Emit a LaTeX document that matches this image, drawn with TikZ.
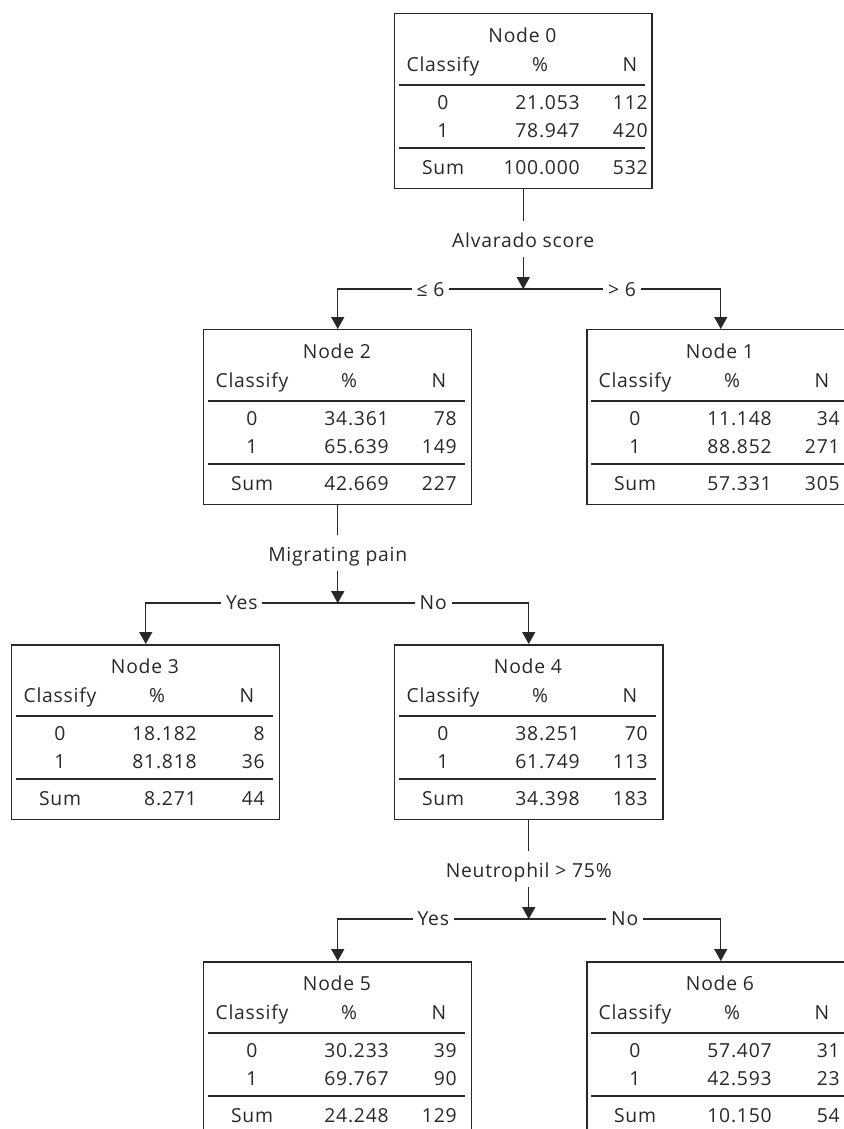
\documentclass[tikz,border=0pt]{standalone}
\usepackage{fontspec}
\setmainfont{Open Sans}[LetterSpace=4]
\usetikzlibrary{arrows.meta,positioning}
\definecolor{treegray}{RGB}{40,40,40}
\tikzset{
    treebox/.style={rectangle, draw=treegray, line width=0.85pt, inner sep=0pt,
        minimum height=3.5cm, anchor=north west},
    cell/.style={inner sep=0pt, anchor=base, text=treegray},
    rule/.style={draw=treegray, line width=0.75pt},
    link/.style={draw=treegray, line width=0.75pt},
    splitlabel/.style={inner xsep=0pt, inner ysep=0.1cm, text height=0.42cm,
        text depth=0.08cm, text=treegray},
    branchlabel/.style={fill=white, inner xsep=0.1cm, inner ysep=0.05cm, text=treegray},
}
% one tree node: id, top left corner, width, then % and N of rows 0, 1 and Sum
\newcommand{\treenode}[9]{%
    \begin{scope}[shift={#2}]
        \node[treebox, minimum width=#3*0.02cm] (n#1) at (0,0) {};
        \node[cell] (n#1-title) at (#3/2,29) {Node #1};
        \node[cell] (n#1-head) at (49,58) {Classify};
        \node[cell] (n#1-pct) at (146,58) {\%};
        \node[cell] (n#1-n) at (236,58) {N};
        \draw[rule] (5,72) -- (#3-6,72);
        \node[cell] (n#1-c0) at (49,96) {0};
        \node[cell, anchor=base east] (n#1-p0) at (186,96) {#4};
        \node[cell, anchor=base east] (n#1-n0) at (254,96) {#5};
        \node[cell] (n#1-c1) at (49,124) {1};
        \node[cell, anchor=base east] (n#1-p1) at (186,124) {#6};
        \node[cell, anchor=base east] (n#1-n1) at (254,124) {#7};
        \draw[rule] (5,135) -- (#3-6,135);
        \node[cell] (n#1-cs) at (49,161) {Sum};
        \node[cell, anchor=base east] (n#1-ps) at (186,161) {#8};
        \node[cell, anchor=base east] (n#1-ns) at (254,161) {#9};
    \end{scope}}

\begin{document}
\begin{tikzpicture}[x=0.02cm, y=-0.02cm, font=\fontsize{11}{13.2}\selectfont,
    >={Triangle[length=0.24cm, width=0.26cm]}]
    \useasboundingbox (0,0) rectangle (844,1129);
    \clip (0,0) rectangle (844,1129);

    %% Tree nodes
    \treenode{0}{(394,13)}{257}{21.053}{112}{78.947}{420}{100.000}{532}
    \treenode{2}{(203,329)}{268}{34.361}{78}{65.639}{149}{42.669}{227}
    \treenode{1}{(586,329)}{268}{11.148}{34}{88.852}{271}{57.331}{305}
    \treenode{3}{(11,644)}{268}{18.182}{8}{81.818}{36}{8.271}{44}
    \treenode{4}{(394,644)}{268}{38.251}{70}{61.749}{113}{34.398}{183}
    \treenode{5}{(203,961)}{268}{30.233}{39}{69.767}{90}{24.248}{129}
    \treenode{6}{(586,961)}{268}{57.407}{31}{42.593}{23}{10.150}{54}

    %% Split on Node 0
    \node[splitlabel, below=0.64cm of n0] (s0) {Alvarado score};
    \coordinate[below=0.64cm of s0] (j0);
    \draw[link] (n0) -- (s0);
    \draw[link, ->] (s0) -- (j0);
    \draw[link, ->] (j0) -| node[branchlabel, pos=.25] (b0) {≤ 6} (n2.north);
    \draw[link, ->] (j0) -| node[branchlabel, pos=.25] (b1) {> 6} (n1.north);

    %% Split on Node 2
    \node[splitlabel, below=0.6cm of n2] (s1) {Migrating pain};
    \coordinate[below=0.64cm of s1] (j1);
    \draw[link] (n2) -- (s1);
    \draw[link, ->] (s1) -- (j1);
    \draw[link, ->] (j1) -| node[branchlabel, pos=.25] (b2) {Yes} (n3.north);
    \draw[link, ->] (j1) -| node[branchlabel, pos=.25] (b3) {No} (n4.north);

    %% Split on Node 4
    \node[splitlabel, below=0.62cm of n4] (s2) {Neutrophil > 75\%};
    \coordinate[below=0.64cm of s2] (j2);
    \draw[link] (n4) -- (s2);
    \draw[link, ->] (s2) -- (j2);
    \draw[link, ->] (j2) -| node[branchlabel, pos=.25] (b4) {Yes} (n5.north);
    \draw[link, ->] (j2) -| node[branchlabel, pos=.25] (b5) {No} (n6.north);
\end{tikzpicture}
\end{document}
